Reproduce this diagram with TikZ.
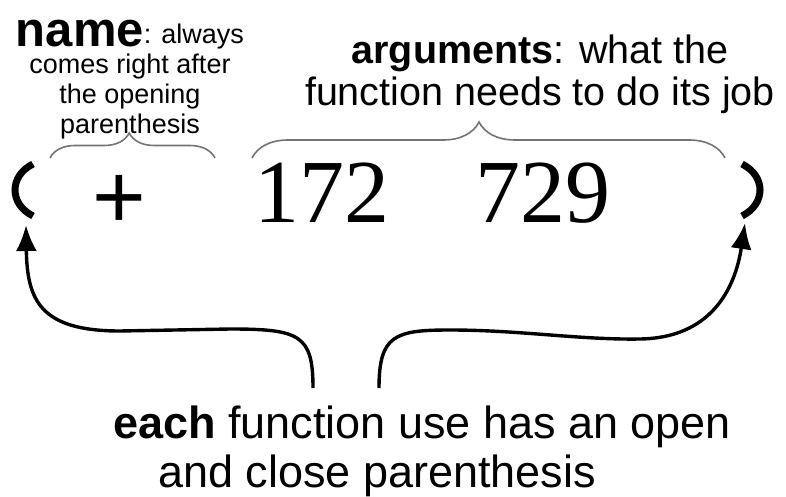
\documentclass[tikz,border=0pt]{standalone}
\usepackage{fontspec}
\setmainfont{Liberation Sans}
\newfontfamily\numfont{Liberation Serif}
\usetikzlibrary{arrows.meta,decorations.pathreplacing}
\definecolor{bracegray}{RGB}{115,115,115}
\tikzset{
  paren/.style={line width=7pt},
  callout/.style={line width=3.4pt,-{Latex[length=26pt,width=21pt]}},
  gbrace/.style={bracegray,line width=1.6pt,decorate,decoration={brace,amplitude=#1,aspect=0.48}},
  expr/.style={inner sep=0pt,anchor=base,font=\numfont\fontsize{90}{90}\selectfont},
  note/.style={inner sep=0pt,align=center},
}
\begin{document}
\begin{tikzpicture}[x=1pt,y=-1pt]
  \useasboundingbox (0,0) rectangle (786,497);
  \node[inner sep=0pt,anchor=base,font=\fontsize{92}{92}\selectfont] (plus) at (119.5,228) {+};
  \node[expr] (first) at (322,222) {172};
  \node[expr] (second) at (543,222) {729};
  \draw[paren] (33,164) .. controls (9,176) and (9,204) .. (33,216);
  \draw[paren] (742,164) .. controls (766,176) and (766,204) .. (742,216);
  \draw[gbrace=25pt] (50,158) -- (215,158);
  \draw[gbrace=36pt] (252,158) -- (725,158);
  \node[note,anchor=north,font=\fontsize{27}{30}\selectfont] (name) at (130,20)
    {\raisebox{-3pt}{\fontsize{49}{49}\selectfont\bfseries name}: always\\comes right after\\the opening\\parenthesis};
  \node[note,anchor=north,font=\fontsize{39.5}{42}\selectfont] (args) at (540,35)
    {\textbf{arguments}: what the\\function needs to do its job};
  \node[note,anchor=base,font=\fontsize{45}{49}\selectfont] (each) at (422,438)
    {\textbf{each} function use has an open};
  \node[note,anchor=base,font=\fontsize{45}{49}\selectfont] (close) at (377,487)
    {and close parenthesis};
  \coordinate (ls) at (313,388);
  \coordinate (lp) at (26,225);
  \coordinate (rs) at (379,388);
  \coordinate (rp) at (745,223);
  \draw[callout] (ls) .. controls (313,335) and (300,329) .. (230,329) -- (120,331)
    .. controls (40,331) and (27,300) .. (lp);
  \draw[callout] (rs) .. controls (379,335) and (395,330) .. (450,330)
    .. controls (520,330) and (580,340) .. (640,339)
    .. controls (710,338) and (735,290) .. (rp);
\end{tikzpicture}
\end{document}
